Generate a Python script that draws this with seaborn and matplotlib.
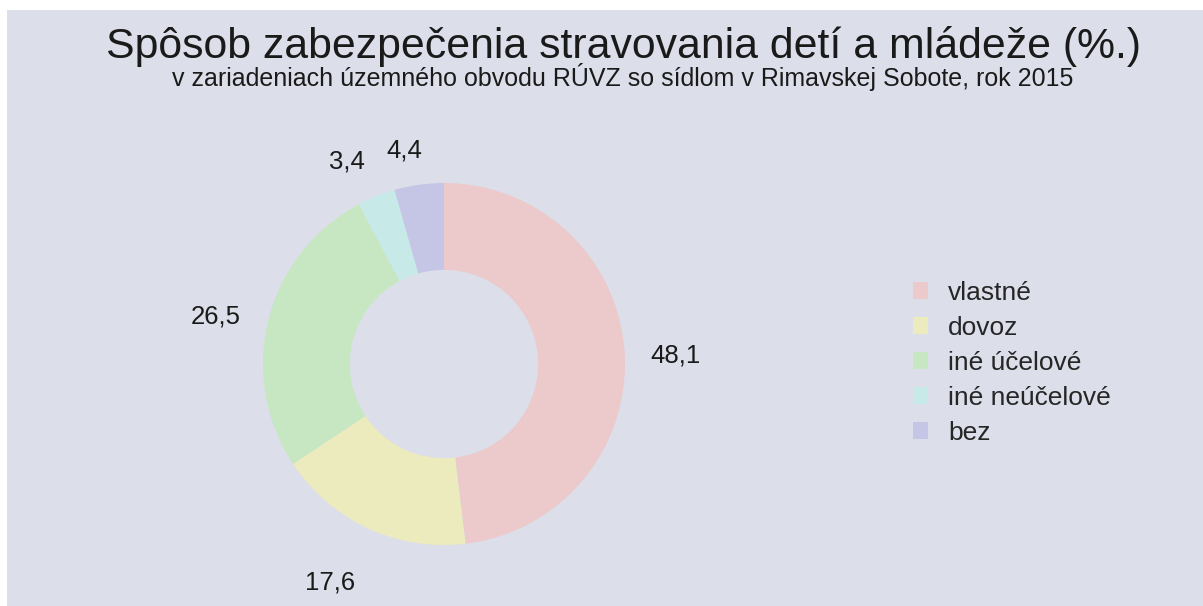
import matplotlib
matplotlib.use("Agg")
import numpy as np
import matplotlib.pyplot as plt
from matplotlib.patches import Rectangle, Patch
import seaborn as sns

# data
categories = ["vlastné", "dovoz", "iné účelové", "iné neúčelové", "bez"]
values = [48.1, 17.6, 26.5, 3.4, 4.4]
value_labels = ["48,1", "17,6", "26,5", "3,4", "4,4"]
colors = ["#ecc9ca", "#ecebbd", "#c7e6c2", "#c7eae8", "#c5c5e5"]
label_dist = [1.28, 1.36, 1.29, 1.24, 1.20]
label_shift = [-1.2, -2.6, 2.5, 3.6, 2.6]   # small angular tweaks in degrees

title = "Spôsob zabezpečenia stravovania detí a mládeže (%.)"
subtitle = "v zariadeniach územného obvodu RÚVZ so sídlom v Rimavskej Sobote, rok 2015"

sns.set_style("white")
plt.rcParams["font.family"] = ["Liberation Sans", "DejaVu Sans"]

bg = "#dcdfea"
fig = plt.figure(figsize=(12.03, 6.06), dpi=100)
fig.patch.set_facecolor("white")
fig.patches.append(Rectangle((7 / 1203, 0), 1, 1 - 10 / 606, transform=fig.transFigure,
                             facecolor=bg, edgecolor="none", zorder=-10))

# donut
ax = fig.add_axes([0.1584, -0.019, 0.4213, 0.8366])
ax.set_facecolor("none")
wedges, _ = ax.pie(values, colors=colors, startangle=90, counterclock=False,
                   wedgeprops=dict(width=0.48, edgecolor="none"))
for w, lab, d, s in zip(wedges, value_labels, label_dist, label_shift):
    ang = np.deg2rad((w.theta1 + w.theta2) / 2 + s)
    ax.text(d * np.cos(ang), d * np.sin(ang), lab, ha="center", va="center",
            fontsize=18.5, color="#1a1a1a", clip_on=False)
ax.set_xlim(-1.4, 1.4)
ax.set_ylim(-1.4, 1.4)
ax.set_aspect("equal")
ax.axis("off")

# titles
fig.text(0.518, 1 - 58 / 606, title, ha="center", va="baseline", fontsize=30.8, color="#1a1a1a")
fig.text(0.518, 1 - 86 / 606, subtitle, ha="center", va="baseline", fontsize=18, color="#1a1a1a")

# legend
handles = [Patch(facecolor=c, edgecolor="none") for c in colors]
fig.legend(handles, categories, loc="upper left", bbox_to_anchor=(902 / 1203, 1 - 270 / 606),
           frameon=False, fontsize=19, handlelength=0.6, handleheight=0.6,
           handletextpad=0.75, labelspacing=0.42, borderaxespad=0)

fig.savefig("out.png", dpi=100, facecolor=fig.get_facecolor())
